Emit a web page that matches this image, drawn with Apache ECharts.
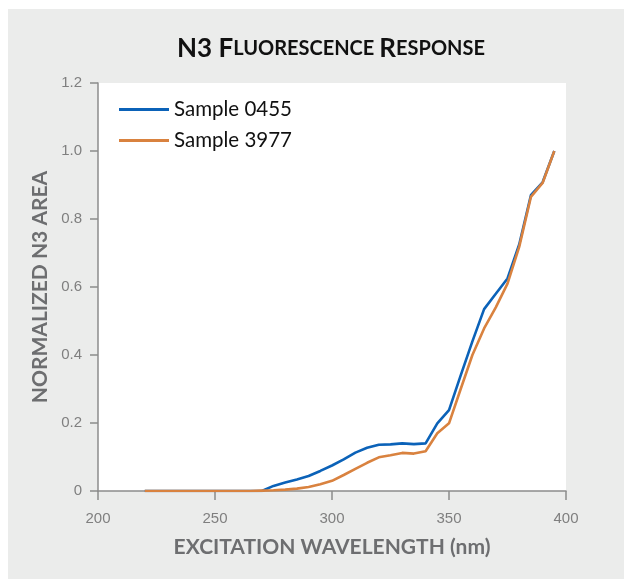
<!DOCTYPE html>
<html>
<head>
<meta charset="utf-8">
<script src="https://cdn.jsdelivr.net/npm/echarts@6/dist/echarts.min.js"></script>
<style>
  html, body { margin: 0; padding: 0; background: #ffffff; }
  #chart { width: 624px; height: 579px; }
</style>
</head>
<body>
<div id="chart"></div>
<script>
// Excitation wavelengths (nm)
const wavelengths = [220, 225, 230, 235, 240, 245, 250, 255, 260, 265, 270, 275, 280, 285, 290, 295,
  300, 305, 310, 315, 320, 325, 330, 335, 340, 345, 350, 355, 360, 365, 370, 375, 380, 385, 390, 395];

// Normalized N3 area, Sample 0455
const sample0455 = [0, 0, 0, 0, 0, 0, 0, 0, 0, 0, 0, 0.015, 0.025, 0.034, 0.044, 0.059,
  0.075, 0.093, 0.113, 0.127, 0.136, 0.137, 0.140, 0.138, 0.140, 0.199, 0.238, 0.34, 0.44, 0.535,
  0.58, 0.625, 0.725, 0.870, 0.908, 1.0];

// Normalized N3 area, Sample 3977
const sample3977 = [0, 0, 0, 0, 0, 0, 0, 0, 0, 0, 0.001, 0.002, 0.004, 0.007, 0.012, 0.020,
  0.030, 0.047, 0.065, 0.083, 0.099, 0.105, 0.112, 0.110, 0.117, 0.170, 0.199, 0.30, 0.40, 0.478,
  0.54, 0.61, 0.718, 0.865, 0.906, 1.0];

const seriesNames = ['Sample 0455', 'Sample 3977'];
const seriesColors = ['#0b62b8', '#d9823f'];

const pair = (xs, ys) => xs.map((x, i) => [x, ys[i]]);

const axisGray = '#8c8c8c';
const labelGray = '#7f7f7f';
const titleGray = '#6d6e70';
const headFont = 'Lato, "Open Sans", sans-serif';

const chart = echarts.init(document.getElementById('chart'), null, { renderer: 'canvas' });

chart.setOption({
  backgroundColor: 'transparent',
  animation: false,
  graphic: [{
    type: 'rect',
    z: -10,
    shape: { x: 8, y: 9, width: 616, height: 570 },
    style: { fill: '#ebeceb' }
  }],
  title: {
    // small-caps heading built from two sizes
    text: '{a|N3 F}{b|LUORESCENCE} {a|R}{b|ESPONSE}',
    left: 172,
    top: 31,
    textStyle: {
      rich: {
        a: { fontFamily: headFont, fontWeight: 'bold', fontSize: 26, color: '#111111' },
        b: { fontFamily: headFont, fontWeight: 'bold', fontSize: 20, color: '#111111' }
      }
    }
  },
  legend: {
    orient: 'vertical',
    left: 114,
    top: 94,
    itemWidth: 50,
    itemHeight: 3,
    itemGap: 10,
    icon: 'rect',
    data: seriesNames,
    textStyle: { fontFamily: headFont, fontSize: 20.5, color: '#111111' }
  },
  grid: {
    left: 98,
    top: 83,
    right: 58,
    bottom: 88,
    show: true,
    backgroundColor: '#ffffff',
    borderWidth: 0
  },
  xAxis: {
    type: 'value',
    min: 200,
    max: 400,
    interval: 50,
    name: 'EXCITATION WAVELENGTH (nm)',
    nameLocation: 'middle',
    nameGap: 46,
    nameTextStyle: { fontFamily: headFont, fontWeight: 'bold', fontSize: 21, color: titleGray },
    axisLine: { lineStyle: { color: axisGray, width: 1.5 } },
    axisTick: { length: 9, lineStyle: { color: axisGray, width: 1.5 } },
    axisLabel: { margin: 20, fontFamily: '"Liberation Sans", Arial, sans-serif', fontSize: 15, color: labelGray },
    splitLine: { show: false }
  },
  yAxis: {
    type: 'value',
    min: 0,
    max: 1.2,
    interval: 0.2,
    name: 'NORMALIZED N3 AREA',
    nameLocation: 'middle',
    nameGap: 38,
    nameTextStyle: { fontFamily: headFont, fontWeight: 'bold', fontSize: 21, color: titleGray },
    axisLine: { show: true, lineStyle: { color: axisGray, width: 1.5 } },
    axisTick: { show: true, length: 8, lineStyle: { color: axisGray, width: 1.5 } },
    axisLabel: {
      margin: 16,
      fontFamily: '"Liberation Sans", Arial, sans-serif',
      fontSize: 15,
      color: labelGray,
      formatter: v => (v === 0 ? '0' : v.toFixed(1))
    },
    splitLine: { show: false }
  },
  series: [
    {
      name: seriesNames[0],
      type: 'line',
      data: pair(wavelengths, sample0455),
      symbol: 'none',
      color: seriesColors[0],
      lineStyle: { width: 2.6, color: seriesColors[0] },
      z: 2
    },
    {
      name: seriesNames[1],
      type: 'line',
      data: pair(wavelengths, sample3977),
      symbol: 'none',
      color: seriesColors[1],
      lineStyle: { width: 2.6, color: seriesColors[1] },
      z: 3
    }
  ]
});
</script>
</body>
</html>
